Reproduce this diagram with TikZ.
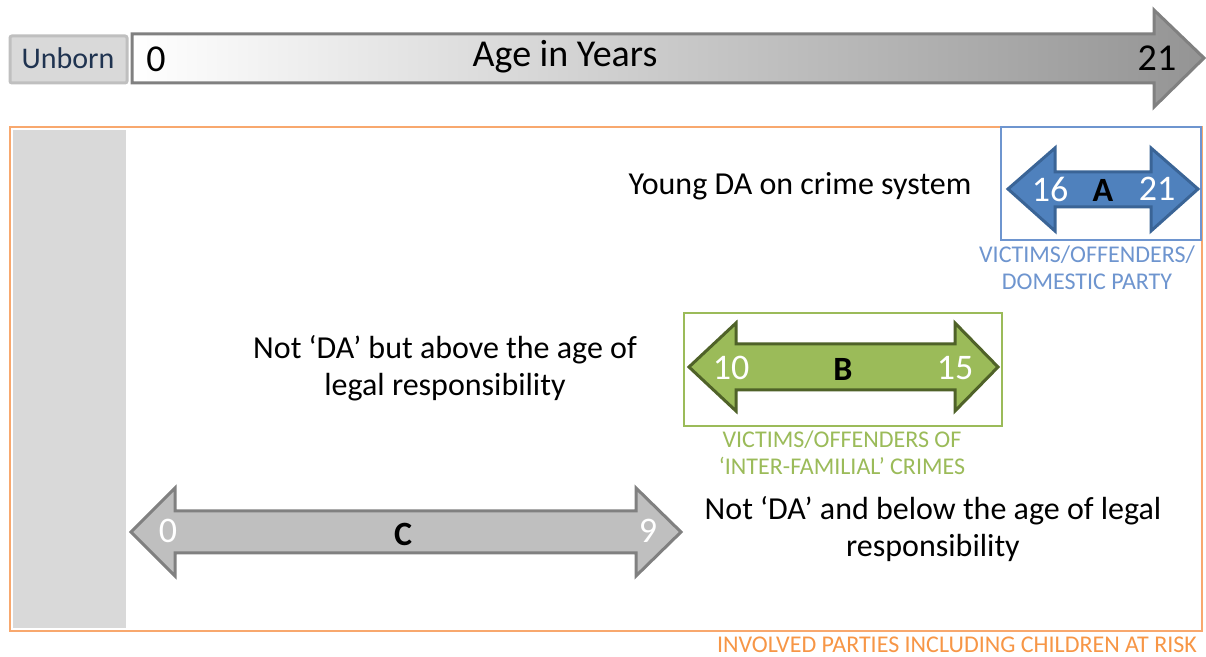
\documentclass[tikz,border=0pt]{standalone}
\usepackage{fontspec}
\setmainfont{Carlito}
\definecolor{orng}{HTML}{F8A86E}
\definecolor{orngtxt}{HTML}{F79646}
\definecolor{blfill}{HTML}{4F81BD}
\definecolor{bldraw}{HTML}{3A6496}
\definecolor{bltxt}{HTML}{6E95CF}
\definecolor{grfill}{HTML}{9BBB59}
\definecolor{grdraw}{HTML}{4F6228}
\definecolor{grtxt}{HTML}{9BBB59}
\definecolor{unbtxt}{HTML}{1F3350}
\tikzset{
  lbl/.style={font=\fontsize{16}{18.5}\selectfont, align=center},
  captxt/.style={font=\fontsize{12}{13.5}\selectfont, align=center},
  num/.style={font=\fontsize{18}{20}\selectfont, white},
  letter/.style={font=\fontsize{17}{19}\selectfont\bfseries, black}
}
\begin{document}
\begin{tikzpicture}[x=0.5pt,y=-0.5pt]
\useasboundingbox (0,0) rectangle (1206,657);
\fill [white] (0,0) rectangle (1206,657);
% age line
\draw [rounded corners=1pt, fill=black!15, draw=black!25, line width=1.5pt] (10,36) rectangle (127,83);
\node (unborn) at (68,58) {\fontsize{15}{17}\selectfont\color{unbtxt}Unborn};
\shade [left color=white, right color=black!42, draw=black!50, line width=1.5pt, line join=miter]
  (132,34) -- (1154,34) -- (1154,10) -- (1204,58) -- (1154,107) -- (1154,83) -- (132,83) -- cycle;
\node (zero) at (156,59) {\fontsize{19}{22}\selectfont 0};
\node (age) at (565,57) {\fontsize{19}{22}\selectfont Age in Years};
\node (top21) at (1157,58) {\fontsize{19}{22}\selectfont 21};
% frame
\draw [orng, line width=1pt] (10,127) rectangle (1202,631);
\fill [black!15] (13,130) rectangle (126,628);
\node [anchor=east, text=orngtxt, captxt] (involved) at (1204,645) {INVOLVED PARTIES INCLUDING CHILDREN AT RISK};
% A
\draw [bltxt, line width=0.6pt] (1001,127) rectangle (1201,240);
\draw [fill=blfill, draw=bldraw, line width=1.5pt, line join=miter]
  (1008,189) -- (1055,148) -- (1055,172) -- (1151,172) -- (1151,148) -- (1198,189)
  -- (1151,231) -- (1151,207) -- (1055,207) -- (1055,231) -- cycle;
\node [num] (a16) at (1050,189) {16};
\node [letter] (a) at (1103,190) {A};
\node [num] (a21) at (1157,189) {21};
\node [captxt, text=bltxt] (capa) at (1087,268) {VICTIMS/OFFENDERS/\\DOMESTIC PARTY};
\node [lbl] (young) at (800,186) {Young DA on crime system};
% B
\draw [grtxt, line width=0.6pt] (684,313) rectangle (1002,426);
\draw [fill=grfill, draw=grdraw, line width=1.5pt, line join=miter]
  (689,367) -- (736,323) -- (736,344) -- (955,344) -- (955,323) -- (998,367)
  -- (955,411) -- (955,390) -- (736,390) -- (736,411) -- cycle;
\node [num] (b10) at (731,368) {10};
\node [letter] (b) at (843,369) {B};
\node [num] (b15) at (955,368) {15};
\node [captxt, text=grtxt] (capb) at (842,453) {VICTIMS/OFFENDERS OF\\‘INTER-FAMILIAL’ CRIMES};
\node [lbl] (above) at (445,368) {Not ‘DA’ but above the age of\\legal responsibility};
% C
\draw [fill=black!25, draw=black!50, line width=1.5pt, line join=miter]
  (131,532) -- (175,488) -- (175,511) -- (636,511) -- (636,488) -- (681,532)
  -- (636,576) -- (636,553) -- (175,553) -- (175,576) -- cycle;
\node [num] (c0) at (168,531) {0};
\node [letter] (c) at (403,534) {C};
\node [num] (c9) at (648,531) {9};
\node [lbl] (below) at (933,529) {Not ‘DA’ and below the age of legal\\responsibility};
\end{tikzpicture}
\end{document}
